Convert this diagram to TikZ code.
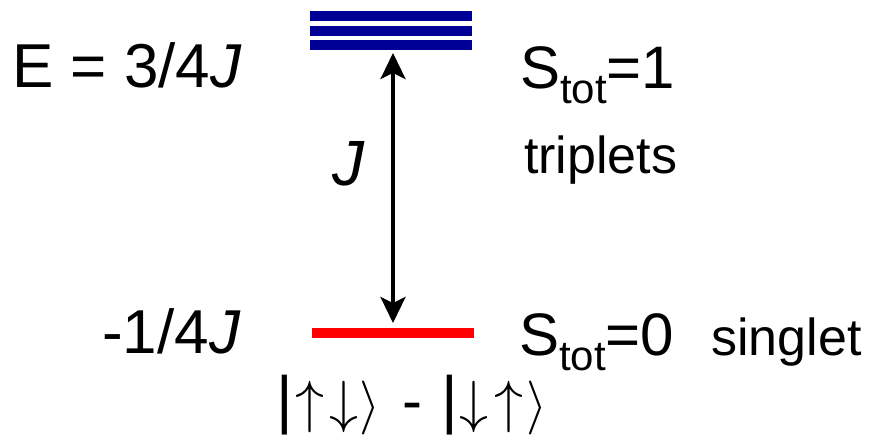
\documentclass[tikz,border=0pt]{standalone}
\usepackage{fontspec}
\setmainfont{Liberation Sans}
\usetikzlibrary{arrows.meta}
\definecolor{levelblue}{RGB}{0,0,150}
\definecolor{levelred}{RGB}{255,0,0}
\tikzset{
  big/.style={inner sep=0pt, anchor=base west, font=\fontsize{62}{62}\selectfont},
  mid/.style={inner sep=0pt, anchor=base west, font=\fontsize{52}{52}\selectfont},
  tripletline/.style={draw=levelblue, line width=10pt},
  singletline/.style={draw=levelred, line width=10pt},
  gap/.style={line width=3.5pt, {Stealth[length=26pt,width=25pt,inset=6pt]}-{Stealth[length=26pt,width=25pt,inset=6pt]}}
}
\newcommand{\subtot}{\raisebox{-15pt}{\fontsize{42}{42}\selectfont tot}}
\newcommand{\kbar}{{\fontsize{64}{64}\selectfont|}}
\newcommand{\kdash}{{\fontsize{60}{60}\selectfont-}}
\newcommand{\ua}{\scalebox{5.8}{\fontsize{10}{10}\selectfont$\uparrow$}}
\newcommand{\da}{\scalebox{5.8}{\fontsize{10}{10}\selectfont$\downarrow$}}
\newcommand{\ra}{\scalebox{5.4}{\fontsize{10}{10}\selectfont$\rangle$}}
\begin{document}
\begin{tikzpicture}[x=1pt,y=1pt]
\useasboundingbox (0,0) rectangle (877,-436);
% levels
\draw[tripletline] (310,-15.7) -- (472,-15.7);
\draw[tripletline] (310,-30.8) -- (472,-30.8);
\draw[tripletline] (310,-45) -- (472,-45);
\draw[singletline] (312,-333.3) -- (474,-333.3);
% arrow
\coordinate (atop) at (393,-53);
\coordinate (abot) at (393,-323);
\draw[gap] (abot) -- (atop);
% labels
\node[big] (e1) at (12,-87) {E = 3/4\textit{J}};
\node[big] (e0) at (102,-353) {-1/4\textit{J}};
\node[big, font=\fontsize{60}{60}\selectfont] (s1) at (520,-88) {S\subtot=1};
\node[mid] (trip) at (524,-173) {triplets};
\node[big, font=\fontsize{60}{60}\selectfont] (s0) at (519,-355) {S\subtot=0};
\node[mid] (sing) at (711,-355) {singlet};
\node[inner sep=0pt, anchor=base, font=\fontsize{64}{64}\selectfont] (jl) at (349,-185) {\textit{J}};
\node[inner sep=0pt, anchor=base west] (ket) at (276,-421)
  {\kbar\kern2.5pt\ua\kern5pt\da\kern1pt\ra\kern22pt\kdash\kern19pt\kbar\kern2pt\da\kern6pt\ua\kern2.5pt\ra};
\end{tikzpicture}
\end{document}
